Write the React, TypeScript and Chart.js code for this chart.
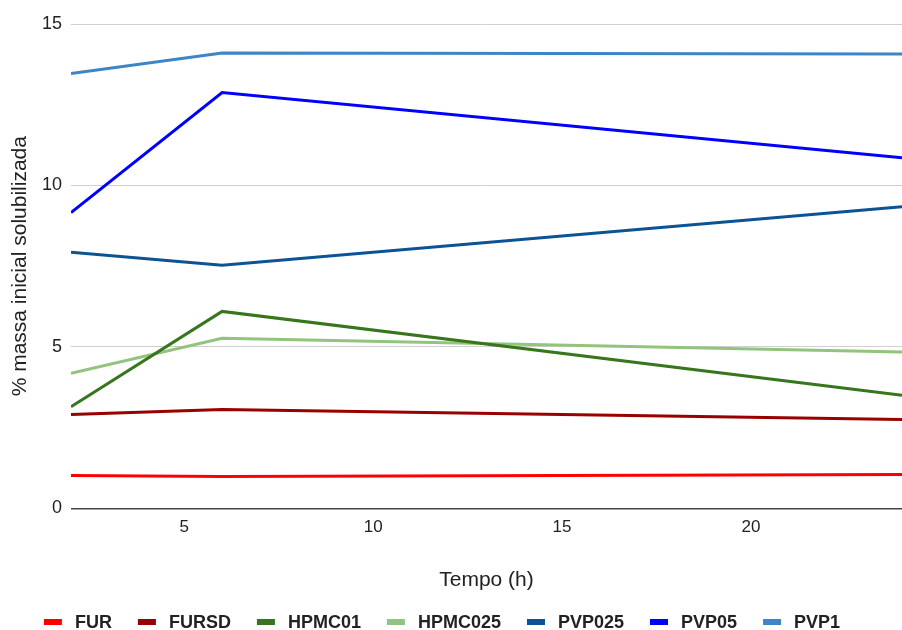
import React, { useEffect, useRef } from "react";
import { Chart, registerables } from "chart.js";

Chart.register(...registerables);

const times = [2, 6, 24];
const seriesNames = ["FUR", "FURSD", "HPMC01", "HPMC025", "PVP025", "PVP05", "PVP1"];
const FUR = [1.02, 0.99, 1.05];
const FURSD = [2.91, 3.06, 2.75];
const HPMC01 = [3.15, 6.1, 3.5];
const HPMC025 = [4.18, 5.27, 4.84];
const PVP025 = [7.93, 7.53, 9.34];
const PVP05 = [9.16, 12.88, 10.86];
const PVP1 = [13.47, 14.1, 14.07];
const seriesValues = [FUR, FURSD, HPMC01, HPMC025, PVP025, PVP05, PVP1];
const seriesColors = ["#ff0000", "#990000", "#38761d", "#93c47d", "#0b5394", "#0000ff", "#3d85c6"];
const yTicks = [0, 5, 10, 15];
const xTicks = [5, 10, 15, 20];

const FONT = "'Liberation Sans', Arial, sans-serif";

const legendPlugin = {
  id: "customLegend",
  afterDraw(chart: any) {
    const ctx = chart.ctx;
    const items = chart.data.datasets.map((d: any) => ({ text: d.label, color: d.borderColor }));
    ctx.save();
    ctx.font = `bold 18px ${FONT}`;
    const boxW = 18, boxH = 6, gap = 13, spacing = 26;
    const widths = items.map((it: any) => boxW + gap + ctx.measureText(it.text).width);
    const total = widths.reduce((a: number, b: number) => a + b, 0) + spacing * (items.length - 1);
    let x = 442 - total / 2;
    const y = 622;
    ctx.textBaseline = "middle";
    ctx.textAlign = "left";
    items.forEach((it: any, i: number) => {
      ctx.fillStyle = it.color;
      ctx.fillRect(x, y - boxH / 2, boxW, boxH);
      ctx.fillStyle = "#222222";
      ctx.fillText(it.text, x + boxW + gap, y + 1);
      x += widths[i] + spacing;
    });
    ctx.restore();
  },
};

export default function App() {
  const ref = useRef<HTMLCanvasElement | null>(null);
  useEffect(() => {
    document.body.style.margin = "0";
    const canvas = ref.current!;
    const chart = new Chart(canvas, {
      type: "line",
      data: {
        datasets: seriesNames.map((name, i) => ({
          label: name,
          data: times.map((t, j) => ({ x: t, y: seriesValues[i][j] })),
          borderColor: seriesColors[i],
          backgroundColor: seriesColors[i],
          borderWidth: 3,
          pointRadius: 0,
          tension: 0,
          fill: false,
        })),
      },
      options: {
        animation: false,
        responsive: false,
        maintainAspectRatio: false,
        layout: { padding: { top: 24, right: 0, bottom: 30, left: 0 } },
        plugins: {
          legend: { display: false },
          tooltip: { enabled: false },
        },
        scales: {
          x: {
            type: "linear",
            min: 2,
            max: 24,
            border: { display: false },
            grid: { display: false, drawTicks: false },
            afterBuildTicks: (scale: any) => {
              scale.ticks = xTicks.map((v) => ({ value: v }));
            },
            ticks: {
              includeBounds: false,
              stepSize: 5,
              padding: 9,
              color: "#222222",
              font: { family: FONT, size: 17 },
              maxRotation: 0,
            },
            title: {
              display: true,
              text: "Tempo (h)",
              color: "#222222",
              font: { family: FONT, size: 21 },
              padding: { top: 21, bottom: 7 },
            },
          },
          y: {
            type: "linear",
            min: 0,
            max: 15,
            border: { display: false },
            afterBuildTicks: (scale: any) => {
              scale.ticks = yTicks.map((v) => ({ value: v }));
            },
            afterFit: (scale: any) => {
              scale.width = 71;
            },
            grid: {
              drawTicks: false,
              color: (c: any) => (c.tick && c.tick.value === 0 ? "#444444" : "#d0d0d0"),
              lineWidth: (c: any) => (c.tick && c.tick.value === 0 ? 1.5 : 1),
            },
            ticks: {
              padding: 9,
              color: "#222222",
              font: { family: FONT, size: 18 },
            },
            title: {
              display: true,
              text: "% massa inicial solubilizada",
              color: "#222222",
              font: { family: FONT, size: 21 },
              padding: { top: 8, bottom: 0 },
            },
          },
        },
      },
      plugins: [legendPlugin],
    } as any);
    return () => chart.destroy();
  }, []);
  return <canvas ref={ref} width={902} height={630} style={{ display: "block", width: 902, height: 630 }} />;
}
